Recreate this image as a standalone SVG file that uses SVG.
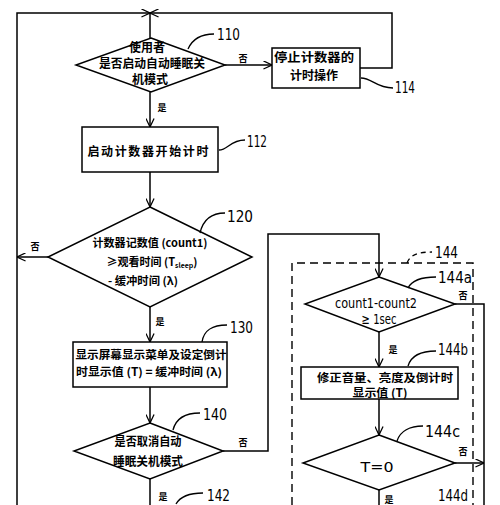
<svg xmlns="http://www.w3.org/2000/svg" width="500" height="505" viewBox="0 0 500 505">
<defs>
<marker id="arr" viewBox="0 0 10 10" refX="9.5" refY="5" markerWidth="9" markerHeight="9" markerUnits="userSpaceOnUse" orient="auto">
<path d="M0,0.5 L9.5,5 L0,9.5" fill="none" stroke="#000" stroke-width="1.4"/>
</marker>
<style>
.ln{stroke:#000;stroke-width:1.5;fill:none}
.sh{fill:#fff;stroke:#000;stroke-width:1.5}
.cn{font-family:"Noto Sans CJK SC","Liberation Serif",sans-serif;font-weight:bold;font-size:12px;text-anchor:middle;fill:#000}
.sm{font-size:11px}
.num{font-family:"DejaVu Sans Condensed","Liberation Sans",sans-serif;font-size:16px;fill:#000}
.yn{font-family:"Noto Sans CJK SC",sans-serif;font-weight:bold;font-size:9px;text-anchor:middle;fill:#000}
.lat{font-family:"DejaVu Sans Condensed","Liberation Sans",sans-serif;font-size:14px;text-anchor:middle;fill:#000}
.lead{stroke:#000;stroke-width:1.3;fill:none}
</style>
</defs>
<rect width="500" height="505" fill="#fff"/>

<g id="connectors">
<path class="ln" d="M17,505 V13 H150" marker-end="url(#arr)"/>
<path class="ln" d="M360,68 H392 V13 H150" marker-end="url(#arr)"/>
<path class="ln" d="M150,13 V38"/>
<path class="ln" d="M225,65 H272" marker-end="url(#arr)"/>
<path class="ln" d="M150,92 V127" marker-end="url(#arr)"/>
<path class="ln" d="M150,172 V207" marker-end="url(#arr)"/>
<path class="ln" d="M48,257 H17" marker-end="url(#arr)"/>
<path class="ln" d="M150,307 V342" marker-end="url(#arr)"/>
<path class="ln" d="M150,387 V423" marker-end="url(#arr)"/>
<path class="ln" d="M150,479 V505"/>
<path class="ln" d="M223,451 H268 V234 H379 V277" marker-end="url(#arr)"/>
<path class="ln" d="M455,304 H484 V505"/>
<path class="ln" d="M379,332 V367" marker-end="url(#arr)"/>
<path class="ln" d="M379,399 V435" marker-end="url(#arr)"/>
<path class="ln" d="M455,463 H484" marker-end="url(#arr)"/>
<path class="ln" d="M379,490 V505"/>
<text class="yn" x="243" y="62">否</text>
<text class="yn" x="162" y="111">是</text>
<text class="yn" x="35" y="250">否</text>
<text class="yn" x="160" y="325">是</text>
<text class="yn" x="243" y="446">否</text>
<text class="yn" x="163" y="500">是</text>
<text class="yn" x="463" y="299">否</text>
<text class="yn" x="393" y="353">是</text>
<text class="yn" x="463" y="455">否</text>
<text class="yn" x="389" y="503">是</text>
</g>

<g id="group144">
<path d="M292,505 V263 H473 V505" fill="none" stroke="#000" stroke-width="1.4" stroke-dasharray="8,5"/>
<path d="M407,263 C410,255 418,252 432,252" fill="none" stroke="#000" stroke-width="1.3" stroke-dasharray="5,4"/>
<text class="num" x="435" y="258" textLength="23" lengthAdjust="spacingAndGlyphs">144</text>
</g>

<g id="n110">
<polygon class="sh" points="151,38 225,65 151,92 76,65"/>
<text class="cn" x="147" y="52">使用者</text>
<text class="cn" x="152" y="68" textLength="106" lengthAdjust="spacingAndGlyphs">是否启动自动睡眠关</text>
<text class="cn" x="150" y="84">机模式</text>
<path class="lead" d="M188,49 C192,40 200,34 214,34"/>
<text class="num" x="217" y="40" textLength="23" lengthAdjust="spacingAndGlyphs">110</text>
</g>

<g id="n114">
<rect class="sh" x="272" y="48" width="88" height="40"/>
<text class="cn" x="314" y="62" textLength="80" lengthAdjust="spacingAndGlyphs">停止计数器的</text>
<text class="cn" x="314" y="80">计时操作</text>
<path class="lead" d="M361,78 C372,78 376,88 393,88"/>
<text class="num" x="395" y="93" textLength="20" lengthAdjust="spacingAndGlyphs">114</text>
</g>

<g id="n112">
<rect class="sh" x="82" y="127" width="136" height="45"/>
<text class="cn" x="148" y="156" font-size="12.5" textLength="121" lengthAdjust="spacing">启动计数器开始计时</text>
<path class="lead" d="M219,150 C228,150 230,140 245,140"/>
<text class="num" x="247" y="147" textLength="20" lengthAdjust="spacingAndGlyphs">112</text>
</g>

<g id="n120">
<polygon class="sh" points="150,207 252,257 150,307 48,257"/>
<text class="cn sm" x="150" y="247" textLength="115" lengthAdjust="spacingAndGlyphs">计数器记数值 (count1)</text>
<text class="cn sm" x="152" y="266" textLength="91" lengthAdjust="spacingAndGlyphs">≥观看时间 (T<tspan font-size="7" dy="2">sleep</tspan><tspan dy="-2">)</tspan></text>
<text class="cn sm" x="143" y="285" textLength="70" lengthAdjust="spacingAndGlyphs">- 缓冲时间 (λ)</text>
<path class="lead" d="M200,233 C203,220 212,213 225,213"/>
<text class="num" x="227" y="222" textLength="26" lengthAdjust="spacingAndGlyphs">120</text>
</g>

<g id="n130">
<rect class="sh" x="73" y="342" width="154" height="45"/>
<text class="cn sm" x="151" y="359" textLength="151" lengthAdjust="spacingAndGlyphs">显示屏幕显示菜单及设定倒计</text>
<text class="cn sm" x="149" y="376" textLength="146" lengthAdjust="spacingAndGlyphs">时显示值 (T) = 缓冲时间 (λ)</text>
<path class="lead" d="M202,342 C204,330 212,325 227,325"/>
<text class="num" x="230" y="333" textLength="23" lengthAdjust="spacingAndGlyphs">130</text>
</g>

<g id="n140">
<polygon class="sh" points="150,423 223,451 150,479 74,451"/>
<text class="cn" x="148" y="446" textLength="67" lengthAdjust="spacingAndGlyphs">是否取消自动</text>
<text class="cn" x="148" y="466" textLength="70" lengthAdjust="spacingAndGlyphs">睡眠关机模式</text>
<path class="lead" d="M173,430 C176,418 185,413 200,413"/>
<text class="num" x="203" y="420" textLength="24" lengthAdjust="spacingAndGlyphs">140</text>
</g>

<g id="n142">
<path class="lead" d="M176,504 C180,497 190,493 203,493"/>
<text class="num" x="207" y="501" font-size="15" textLength="23" lengthAdjust="spacingAndGlyphs">142</text>
</g>

<g id="n144a">
<polygon class="sh" points="379,277 455,304 379,332 305,304"/>
<text class="lat" x="376" y="308" textLength="82" lengthAdjust="spacingAndGlyphs">count1-count2</text>
<text class="lat" x="379" y="324" textLength="35" lengthAdjust="spacingAndGlyphs">≥ 1sec</text>
<path class="lead" d="M408,288 C412,280 422,277 436,277"/>
<text class="num" x="438" y="283" font-size="15" textLength="34" lengthAdjust="spacingAndGlyphs">144a</text>
</g>

<g id="n144b">
<rect class="sh" x="301" y="367" width="157" height="32"/>
<text class="cn sm" x="385" y="382" textLength="136" lengthAdjust="spacingAndGlyphs">修正音量、亮度及倒计时</text>
<text class="cn sm" x="380" y="397" textLength="55" lengthAdjust="spacingAndGlyphs">显示值 (T)</text>
<path class="lead" d="M408,366 C411,356 420,351 436,351"/>
<text class="num" x="438" y="355" textLength="30" lengthAdjust="spacingAndGlyphs">144b</text>
</g>

<g id="n144c">
<polygon class="sh" points="379,435 455,463 379,490 303,463"/>
<text class="lat" x="377" y="472" font-size="16" textLength="33" lengthAdjust="spacingAndGlyphs">T=0</text>
<path class="lead" d="M397,441 C400,431 410,426 423,426"/>
<text class="num" x="425" y="437" textLength="35" lengthAdjust="spacingAndGlyphs">144c</text>
</g>

<g id="n144d">
<text class="num" x="438" y="501" font-size="12" textLength="30" lengthAdjust="spacingAndGlyphs">144d</text>
</g>
</svg>
